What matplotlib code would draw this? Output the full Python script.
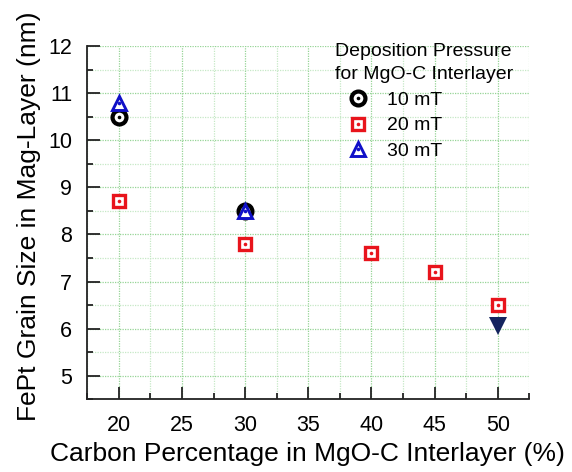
import matplotlib
matplotlib.use("Agg")
import matplotlib.pyplot as plt
from matplotlib.ticker import MultipleLocator
from matplotlib.legend_handler import HandlerTuple

plt.rcParams['font.family'] = ['Liberation Sans', 'DejaVu Sans']

# Data
x_10 = [20, 30]
y_10 = [10.5, 8.5]
x_20 = [20, 30, 40, 45, 50]
y_20 = [8.7, 7.8, 7.6, 7.2, 6.5]
x_30 = [20, 30]
y_30 = [10.8, 8.5]
x_extra = [50]
y_extra = [6.05]

labels = ["10 mT", "20 mT", "30 mT"]
legend_title = "Deposition Pressure\nfor MgO-C Interlayer"
xlabel = "Carbon Percentage in MgO-C Interlayer (%)"
ylabel = "FePt Grain Size in Mag-Layer (nm)"

fig = plt.figure(figsize=(5.72, 4.72), dpi=100)
ax = fig.add_axes([0.1526, 0.154, 0.7727, 0.7485])

ax.set_xlim(17.5, 52.5)
ax.set_ylim(4.5, 12)
ax.xaxis.set_major_locator(MultipleLocator(5))
ax.xaxis.set_minor_locator(MultipleLocator(2.5))
ax.yaxis.set_major_locator(MultipleLocator(1))
ax.yaxis.set_minor_locator(MultipleLocator(0.5))

ax.grid(which='major', color='#96d496', linestyle=(0, (1, 1)), linewidth=0.9)
ax.grid(which='minor', color='#c6e8c6', linestyle=(0, (1, 1)), linewidth=0.9)
ax.set_axisbelow(True)

for s in ['top', 'right']:
    ax.spines[s].set_visible(False)
for s in ['left', 'bottom']:
    ax.spines[s].set_color('#222222')
    ax.spines[s].set_linewidth(1.3)

ax.tick_params(which='major', direction='in', length=9, width=1.3, color='#222222',
               labelsize=15.5, pad=11)
ax.tick_params(which='minor', direction='in', length=4.5, width=1.3, color='#222222')

ms = 10
mew = 2.4
dot = 2.6

h10a, = ax.plot(x_10, y_10, linestyle='none', marker='o', ms=ms, mew=mew + 0.6,
                mec='black', mfc='white', zorder=3)
h10b, = ax.plot(x_10, y_10, linestyle='none', marker='o', ms=dot, mew=0,
                mfc='black', zorder=3)
h20a, = ax.plot(x_20, y_20, linestyle='none', marker='s', ms=ms - 0.7, mew=mew,
                mec='#e8141c', mfc='white', zorder=4)
h20b, = ax.plot(x_20, y_20, linestyle='none', marker='o', ms=dot, mew=0,
                mfc='#e8141c', zorder=4)
h30a, = ax.plot(x_30, y_30, linestyle='none', marker='^', ms=ms, mew=mew - 0.3,
                mec='#1010c8', mfc='white', zorder=5)
h30b, = ax.plot(x_30, y_30, linestyle='none', marker='o', ms=dot, mew=0,
                mfc='#1010c8', zorder=5)
ax.plot(x_extra, y_extra, linestyle='none', marker='v', ms=12.5, mew=0,
        mfc='#14245e', zorder=5)

leg = ax.legend([(h10a, h10b), (h20a, h20b), (h30a, h30b)], labels,
                handler_map={tuple: HandlerTuple(ndivide=1)},
                title=legend_title, title_fontsize=14, fontsize=14,
                frameon=False, loc='upper left',
                bbox_to_anchor=(335 / 572, 1 - 43 / 472),
                bbox_transform=fig.transFigure,
                borderpad=0, borderaxespad=0, alignment='left',
                handlelength=2.35, handletextpad=0.3, labelspacing=0.42)
leg.get_title().set_linespacing(1.45)

ax.set_xlabel(xlabel, fontsize=19)
ax.set_ylabel(ylabel, fontsize=19)
ax.xaxis.set_label_coords(0.499, -0.12)
ax.yaxis.set_label_coords(-0.105, 0.519)

fig.savefig("out.png", dpi=100)
